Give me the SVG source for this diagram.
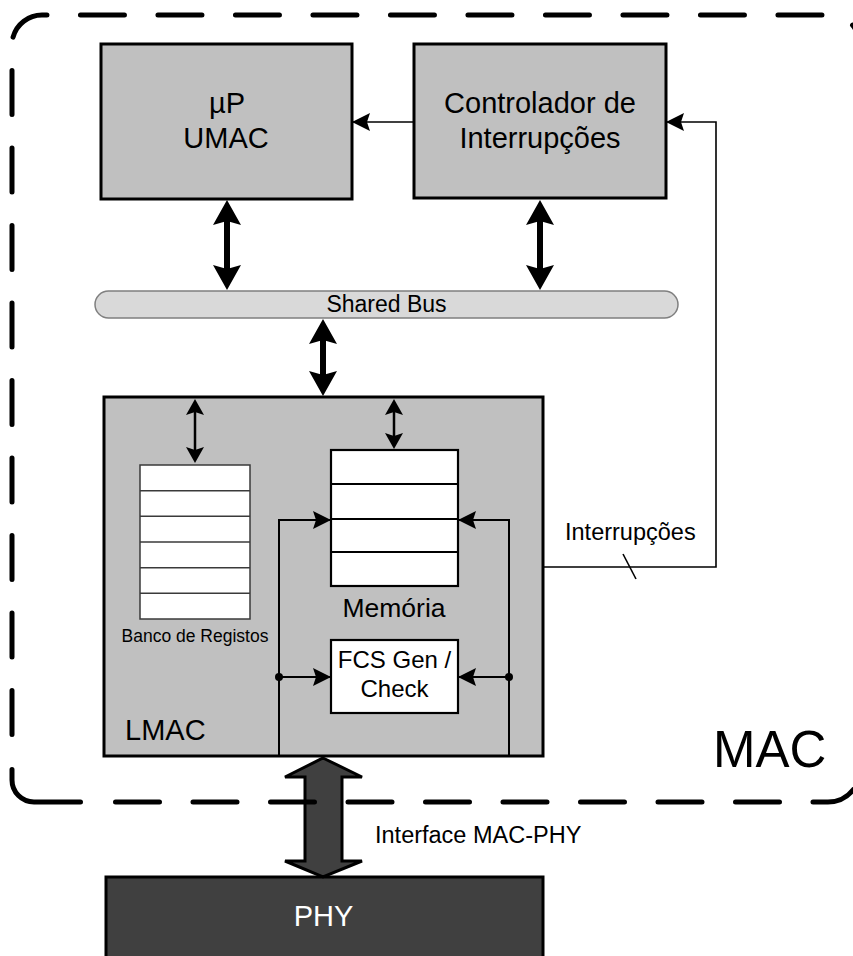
<svg xmlns="http://www.w3.org/2000/svg" width="853" height="956" viewBox="0 0 853 956">
<style>
  text { font-family: "Liberation Sans", Arial, sans-serif; fill: #000; }
  .box { fill: #c0c0c0; stroke: #000; stroke-width: 3; }
  .white { fill: #fff; stroke: #000; stroke-width: 2.2; }
  .row { stroke: #000; stroke-width: 2.2; }
  .reg { fill: #fff; stroke: #3a3a3a; stroke-width: 1.5; }
  .regrow { stroke: #3a3a3a; stroke-width: 1.5; }
  .thin { fill: none; stroke: #000; stroke-width: 1.6; }
  .mid { fill: none; stroke: #000; stroke-width: 2; }
  .thick { fill: none; stroke: #000; stroke-width: 6; }
  .dbl { fill: none; stroke: #000; stroke-width: 2.5; }
  .border { fill: none; stroke: #000; stroke-width: 5; stroke-linecap: round; stroke-linejoin: round; }
  .dash { stroke-dasharray: 44 33.5; }
  .c { text-anchor: middle; }
</style>
<defs>
  <marker id="big" markerUnits="userSpaceOnUse" markerWidth="26" markerHeight="28" refX="13" refY="14" orient="auto-start-reverse" overflow="visible">
    <path d="M0,0 L25,14 L0,28 L4,14 z" fill="#000"/>
  </marker>
  <marker id="sm" markerUnits="userSpaceOnUse" markerWidth="16" markerHeight="18" refX="10" refY="9" orient="auto-start-reverse" overflow="visible">
    <path d="M0,0 L16,9 L0,18 L3,9 z" fill="#000"/>
  </marker>
  <marker id="ar" markerUnits="userSpaceOnUse" markerWidth="18" markerHeight="18" refX="17" refY="9" orient="auto" overflow="visible">
    <path d="M0,0 L18,9 L0,18 L3,9 z" fill="#000"/>
  </marker>
</defs>

<g id="umac">
  <rect class="box" x="101" y="44" width="251" height="155"/>
  <text class="c" x="227" y="113" font-size="29">µP</text>
  <text class="c" x="226" y="148" font-size="29">UMAC</text>
</g>

<g id="intc">
  <rect class="box" x="414" y="44" width="252" height="154"/>
  <text class="c" x="540" y="113" font-size="29">Controlador de</text>
  <text class="c" x="540" y="148" font-size="29">Interrupções</text>
</g>

<g id="bus">
  <rect x="95" y="291" width="583" height="27" rx="13.5" ry="13.5" fill="#d9d9d9" stroke="#7f7f7f" stroke-width="1.5"/>
  <text class="c" x="386.5" y="312" font-size="23">Shared Bus</text>
</g>

<g id="lmac">
  <rect class="box" x="104" y="397" width="439" height="359"/>
  <text x="125" y="740" font-size="29">LMAC</text>
</g>

<g id="regbank">
  <rect class="reg" x="140" y="465" width="110" height="154"/>
  <line class="regrow" x1="140" y1="490.7" x2="250" y2="490.7"/>
  <line class="regrow" x1="140" y1="516.3" x2="250" y2="516.3"/>
  <line class="regrow" x1="140" y1="542" x2="250" y2="542"/>
  <line class="regrow" x1="140" y1="567.7" x2="250" y2="567.7"/>
  <line class="regrow" x1="140" y1="593.3" x2="250" y2="593.3"/>
  <text class="c" x="195" y="642" font-size="17.5">Banco de Registos</text>
</g>

<g id="memory">
  <rect class="white" x="331" y="450" width="127" height="136"/>
  <line class="row" x1="331" y1="484" x2="458" y2="484"/>
  <line class="row" x1="331" y1="519" x2="458" y2="519"/>
  <line class="row" x1="331" y1="552" x2="458" y2="552"/>
  <text class="c" x="394" y="617" font-size="26.5">Memória</text>
</g>

<g id="fcs">
  <rect class="white" x="331" y="640" width="127" height="73"/>
  <text class="c" x="394.5" y="668" font-size="24">FCS Gen /</text>
  <text class="c" x="394.5" y="697" font-size="24">Check</text>
</g>

<g id="phy">
  <rect x="106" y="877" width="437" height="100" fill="#404040" stroke="#000" stroke-width="3"/>
  <text class="c" x="323.5" y="926" font-size="29" style="fill:#fff">PHY</text>
</g>

<g id="connectors">
  <path class="thin" d="M414,122 H353" marker-end="url(#ar)"/>
  <path class="thin" d="M543,567 H716 V122 H667" marker-end="url(#ar)"/>
  <line class="thin" x1="623" y1="554" x2="636" y2="579"/>
  <text x="565" y="540" font-size="23.5">Interrupções</text>
  <line class="thick" x1="227" y1="212" x2="227" y2="278" marker-start="url(#big)" marker-end="url(#big)"/>
  <line class="thick" x1="540" y1="212" x2="540" y2="278" marker-start="url(#big)" marker-end="url(#big)"/>
  <line class="thick" x1="323" y1="331" x2="323" y2="384" marker-start="url(#big)" marker-end="url(#big)"/>
  <line class="dbl" x1="195" y1="405" x2="195" y2="457" marker-start="url(#sm)" marker-end="url(#sm)"/>
  <line class="dbl" x1="394" y1="405" x2="394" y2="443" marker-start="url(#sm)" marker-end="url(#sm)"/>
  <path class="mid" d="M279,756 V520 H330" marker-end="url(#ar)"/>
  <path class="mid" d="M509,756 V520 H459" marker-end="url(#ar)"/>
  <path class="mid" d="M279,677 H330" marker-end="url(#ar)"/>
  <path class="mid" d="M509,677 H459" marker-end="url(#ar)"/>
  <circle cx="279" cy="677" r="4" fill="#000"/>
  <circle cx="509" cy="677" r="4" fill="#000"/>
  <polygon points="323,758 362,777 342,777 342,861 362,861 323,877 285,861 305,861 305,777 285,777" fill="#404040" stroke="#000" stroke-width="3"/>
  <text x="375" y="843" font-size="23.5">Interface MAC-PHY</text>
</g>

<g id="mac">
  <path class="border dash" d="M12,734.5 V45 A30,30 0 0 1 42,15 H830 A30,30 0 0 1 860,45 V780"/>
  <path class="border dash" d="M115.5,802 H828 A32,32 0 0 0 860,770"/>
  <path class="border" d="M12,769.5 V780 A22,22 0 0 0 34,802 H80.5"/>
  <text x="713" y="767" font-size="51">MAC</text>
</g>
</svg>
